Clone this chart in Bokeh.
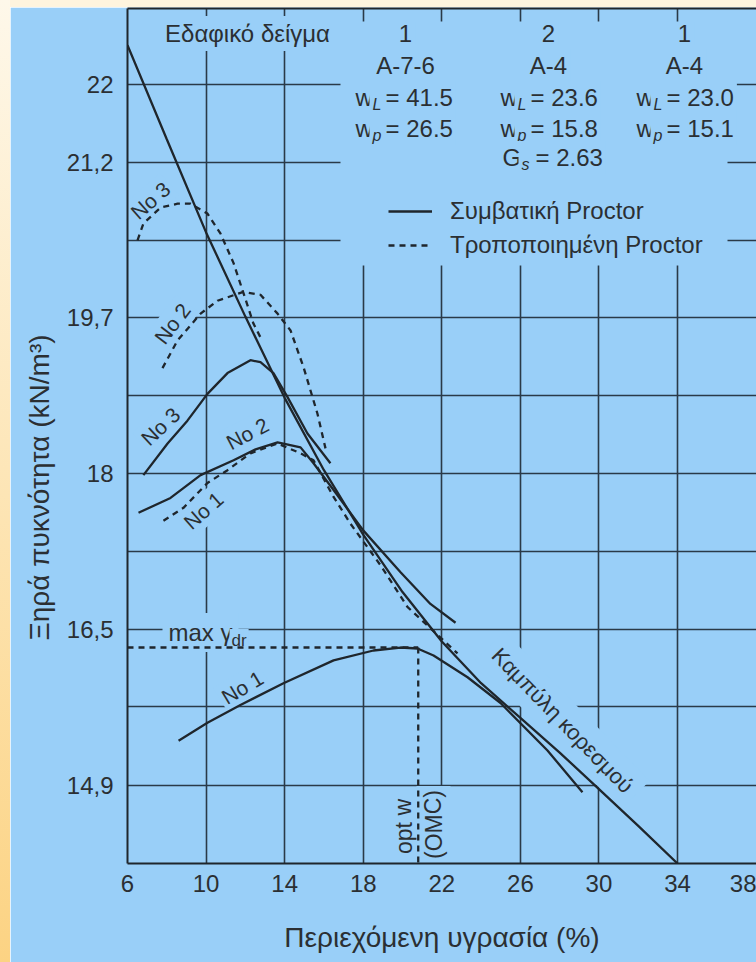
from bokeh.plotting import figure
from bokeh.models import (Range1d, FixedTicker, LinearAxis, Label, BoxAnnotation,
                          Legend, LegendItem, Div, Title)
from bokeh.layouts import row, column
from bokeh.embed import file_html
from bokeh.resources import INLINE

# ---------------- data ----------------
x_ticks = [6, 10, 14, 18, 22, 26, 30, 34, 38]
x_grid = [6, 10, 14, 18, 22, 26, 30, 34]
# grid lines every 5 pcf, expressed in kN/m3
y_grid = [21.99, 21.21, 20.42, 19.64, 18.85, 18.07, 17.28, 16.49, 15.71, 14.92]
y_tick_labels = {21.99: "22", 21.21: "21,2", 19.64: "19,7", 18.07: "18",
                 16.49: "16,5", 14.92: "14,9"}

# saturation (zero air voids) curve
sat_w = [6, 8, 10, 12, 14, 16, 18, 20, 22, 24, 26, 28, 30, 32, 34]
sat_g = [22.39, 21.44, 20.50, 19.65, 18.83, 18.10, 17.45, 16.87, 16.37, 15.95,
         15.60, 15.25, 14.88, 14.51, 14.13]

# standard Proctor (solid)
std3_w = [6.81, 8.04, 9.05, 10.07, 11.09, 12.26, 12.77, 13.43, 14.14, 15.16, 16.33]
std3_g = [18.05, 18.37, 18.60, 18.87, 19.08, 19.21, 19.19, 19.08, 18.84, 18.47, 18.17]
std2_w = [6.56, 8.19, 9.72, 11.40, 12.52, 13.64, 14.81, 15.47, 16.49, 18.01, 19.90, 21.42, 22.70]
std2_g = [17.67, 17.82, 18.05, 18.20, 18.31, 18.38, 18.33, 18.17, 17.90, 17.49, 17.07, 16.75, 16.56]
std1_w = [8.60, 10.07, 11.75, 13.94, 16.49, 18.52, 19.90, 20.76, 21.58, 23.31, 24.99, 27.38, 29.16]
std1_g = [15.37, 15.55, 15.73, 15.95, 16.18, 16.28, 16.31, 16.30, 16.23, 16.01, 15.75, 15.27, 14.85]

# modified Proctor (dashed)
mod3_w = [6.51, 6.81, 7.68, 8.55, 9.21, 10.07, 10.73, 11.40, 11.90, 12.41, 12.77]
mod3_g = [20.42, 20.59, 20.75, 20.79, 20.79, 20.69, 20.49, 20.19, 19.89, 19.58, 19.44]
mod2_w = [7.78, 8.55, 9.72, 10.58, 11.90, 12.77, 13.64, 14.30, 14.96, 15.67, 16.08]
mod2_g = [19.13, 19.41, 19.68, 19.81, 19.90, 19.87, 19.68, 19.51, 19.14, 18.67, 18.32]
mod1_w = [7.83, 8.85, 10.07, 11.09, 12.26, 13.64, 14.81, 15.47, 16.49, 17.35, 18.88, 20.25, 22.80]
mod1_g = [17.59, 17.72, 17.97, 18.10, 18.27, 18.37, 18.27, 18.20, 17.83, 17.56, 17.14, 16.72, 16.25]

opt_w = 20.8
max_gdr = 16.31

# ---------------- styling ----------------
BG = "#99CFF8"
INK = "#1f262c"
GRID = "#2a3a48"
TXT = "#2b2f33"
FONT = "Liberation Sans"
X0, X1 = 6, 38.02
Y0, Y1 = 14.13, 22.76

FRAME_LEFT, FRAME_BOTTOM = 127, 863   # page pixels
STRIP_W, STRIP_H = 10, 7

p = figure(width=756 - STRIP_W, height=962 - STRIP_H,
           x_range=Range1d(X0, X1), y_range=Range1d(Y0, Y1),
           output_backend="svg", toolbar_location=None,
           min_border_left=FRAME_LEFT - STRIP_W, min_border_right=0,
           min_border_top=8 - STRIP_H, min_border_bottom=962 - FRAME_BOTTOM)
p.background_fill_color = BG
p.border_fill_color = BG
p.outline_line_color = None

p.xaxis.ticker = FixedTicker(ticks=x_ticks)
p.yaxis.ticker = FixedTicker(ticks=list(y_tick_labels.keys()))
p.yaxis.major_label_overrides = dict(y_tick_labels)
p.xgrid.ticker = FixedTicker(ticks=x_grid)
p.ygrid.ticker = FixedTicker(ticks=y_grid)
for ax in (p.xaxis[0], p.yaxis[0]):
    ax.axis_line_color = INK
    ax.axis_line_width = 2
    ax.major_tick_out = 0
    ax.major_tick_in = 0
    ax.minor_tick_line_color = None
    ax.major_label_text_font = FONT
    ax.major_label_text_font_size = "24px"
    ax.major_label_text_color = TXT
p.xaxis.major_label_standoff = 11
p.yaxis.major_label_standoff = 14
p.xaxis.axis_label = "Περιεχόμενη υγρασία (%)"
p.xaxis.axis_label_text_font = FONT
p.xaxis.axis_label_text_font_size = "28px"
p.xaxis.axis_label_text_font_style = "normal"
p.xaxis.axis_label_text_color = TXT
p.xaxis.axis_label_standoff = 27

top = LinearAxis(ticker=FixedTicker(ticks=[]), axis_line_color=INK, axis_line_width=2,
                 minor_tick_line_color=None, major_tick_line_color=None)
p.add_layout(top, "above")

ytitle = Title(text="Ξηρά πυκνότητα (kN/m³)", align="left", offset=223,
               text_font=FONT, text_font_size="28px", text_font_style="normal",
               text_color=TXT, standoff=18)
p.add_layout(ytitle, "left")

p.grid.grid_line_color = GRID
p.grid.grid_line_width = 1.6


def sx(px):
    return X0 + (px - FRAME_LEFT) * (X1 - X0) / (756 - FRAME_LEFT)


def sy(py):
    return Y0 + (FRAME_BOTTOM - py) * (Y1 - Y0) / (FRAME_BOTTOM - 8)


# blank region behind the header and legend (gridlines interrupted there,
# only short top ticks remain)
p.add_layout(BoxAnnotation(left=sx(340), right=sx(727), bottom=sy(265), top=sy(21),
                           fill_color=BG, fill_alpha=1, line_color=None, level="underlay"))


def lab(text, px, py, size=21, angle=0.0, align="center", baseline="middle",
        style="normal", bg=True, pad=3):
    l = Label(x=px - FRAME_LEFT, y=FRAME_BOTTOM - py, x_units="screen", y_units="screen",
              text=text, text_font=FONT, text_font_size=f"{size}px", text_color=TXT,
              text_align=align, text_baseline=baseline, angle=angle,
              text_font_style=style, level="underlay")
    if bg:
        l.background_fill_color = BG
        l.background_fill_alpha = 1
        l.padding = pad
    p.add_layout(l)
    return l


# ---------------- curves ----------------
SOLID = dict(line_color=INK, line_width=2.3)
DASH = dict(line_color=INK, line_width=2.3, line_dash="6 5")

r_sat = p.line(sat_w, sat_g, **SOLID)
r_s3 = p.line(std3_w, std3_g, **SOLID)
r_s2 = p.line(std2_w, std2_g, **SOLID)
r_s1 = p.line(std1_w, std1_g, **SOLID)
r_m3 = p.line(mod3_w, mod3_g, **DASH)
r_m2 = p.line(mod2_w, mod2_g, **DASH)
r_m1 = p.line(mod1_w, mod1_g, **DASH)
p.line([X0, opt_w], [max_gdr, max_gdr], **DASH)
p.line([opt_w, opt_w], [max_gdr, Y0], **DASH)

legend = Legend(items=[LegendItem(label="Συμβατική Proctor", renderers=[r_s1]),
                       LegendItem(label="Τροποποιημένη Proctor", renderers=[r_m1])],
                location=(388 - FRAME_LEFT, FRAME_BOTTOM - 259),
                glyph_width=44, glyph_height=22, label_height=22, spacing=6,
                label_standoff=18, padding=0, margin=0, border_line_color=None,
                background_fill_alpha=0, label_text_font=FONT,
                label_text_font_size="24px", label_text_color=TXT)
p.add_layout(legend)

# ---------------- texts ----------------
lab("Εδαφικό δείγμα", 247, 33, size=24, pad=4)
for cx, t1, t2 in [(405, "1", "A-7-6"), (548, "2", "A-4"), (684, "1", "A-4")]:
    lab(t1, cx, 33, size=24)
    lab(t2, cx, 65, size=24)


def subtext(x_left, y, main, sub, rest):
    lab(main, x_left, y, size=24, align="left")
    lab(sub, x_left + 17, y + 7, size=16, align="left", style="italic")
    lab(rest, x_left + 30, y, size=24, align="left")


for xl, wl, wp in [(352, "= 41.5", "= 26.5"), (497, "= 23.6", "= 15.8"), (633, "= 23.0", "= 15.1")]:
    subtext(xl, 97, "w", "L", wl)
    subtext(xl, 128, "w", "p", wp)
lab("G", 499, 157, size=24, align="left")
lab("s", 518, 164, size=16, align="left", style="italic")
lab("= 2.63", 532, 157, size=24, align="left")

lab("max γ", 162, 632, size=24, align="left", pad=6)
lab("dr", 229, 640, size=17, align="left", pad=2)

lab("No 3", 150, 200, size=21, angle=0.72)
lab("No 2", 172, 323, size=21, angle=0.92)
lab("No 3", 160, 426, size=21, angle=0.75)
lab("No 2", 247, 433, size=21, angle=0.48)
lab("No 1", 203, 510, size=21, angle=0.72)
lab("No 1", 242, 687, size=21, angle=0.54)
lab("Καμπύλη κορεσμού", 562, 720, size=22, angle=-0.80, pad=8)
lab("opt w", 403, 826, size=23, angle=1.5708)
lab("(OMC)", 433, 824, size=23, angle=1.5708, pad=4)

left_strip = Div(width=STRIP_W, height=962, margin=0,
                 styles={"background": "linear-gradient(to bottom, #FEF8EA, #FCD383)"})
top_strip = Div(width=756 - STRIP_W, height=STRIP_H, margin=0,
                styles={"background": "#FEF4DE"})
layout = row(left_strip, column(top_strip, p, spacing=0, margin=0), spacing=0, margin=0)

open("out.html", "w").write(file_html(layout, INLINE))
